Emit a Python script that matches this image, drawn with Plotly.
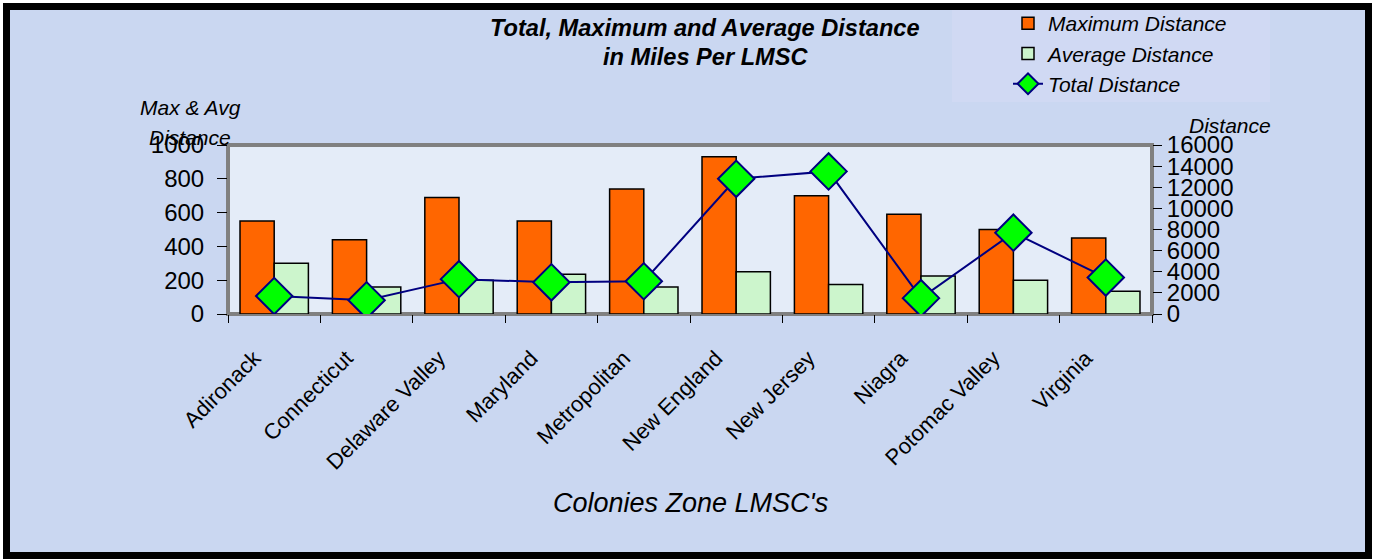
import plotly.graph_objects as go

categories = ["Adironack", "Connecticut", "Delaware Valley", "Maryland", "Metropolitan",
              "New England", "New Jersey", "Niagra", "Potomac Valley", "Virginia"]
max_distance = [550, 440, 690, 550, 740, 930, 700, 590, 500, 450]
avg_distance = [300, 160, 200, 235, 160, 250, 175, 225, 200, 135]
total_distance = [1700, 1300, 3300, 3000, 3100, 12800, 13500, 1500, 7700, 3450]
left_ticks = [0, 200, 400, 600, 800, 1000]
right_ticks = [0, 2000, 4000, 6000, 8000, 10000, 12000, 14000, 16000]

FONT = "Liberation Sans, Arial, sans-serif"
W, H = 1377, 559
L, R, T, B = 228, 225, 145, 245
PW, PH = W - L - R, H - T - B


def px(x):
    return (x - L) / PW


def py(y):
    return (H - B - y) / PH


fig = go.Figure()
fig.add_trace(go.Bar(
    x=categories, y=max_distance, name="Maximum Distance",
    marker=dict(color="#ff6600", line=dict(color="black", width=1.5)),
))
fig.add_trace(go.Bar(
    x=categories, y=avg_distance, name="Average Distance",
    marker=dict(color="#ccf5cc", line=dict(color="black", width=1.5)),
))
fig.add_trace(go.Scatter(
    x=categories, y=total_distance, name="Total Distance", yaxis="y2",
    mode="lines+markers",
    line=dict(color="#000080", width=2),
    marker=dict(symbol="diamond", size=28, color="#00ff00",
                line=dict(color="#000080", width=2)),
))

fig.update_layout(
    width=W, height=H,
    margin=dict(l=L, r=R, t=T, b=B, pad=0, autoexpand=False),
    paper_bgcolor="white",
    plot_bgcolor="rgba(0,0,0,0)",
    font=dict(family=FONT, color="black"),
    barmode="group", bargap=0.26, bargroupgap=0,
    showlegend=True,
    legend=dict(
        x=px(1008), y=py(3), xanchor="left", yanchor="top",
        bgcolor="rgba(0,0,0,0)",
        font=dict(family=FONT, size=21, style="italic"),
        traceorder="normal",
    ),
    xaxis=dict(
        type="category", range=[-0.5, len(categories) - 0.5],
        tickangle=-45, tickson="boundaries",
        ticks="outside", ticklen=8, tickcolor="black", tickwidth=1,
        showgrid=False, showline=False, zeroline=False,
        tickfont=dict(family=FONT, size=22),
        ticklabelstandoff=26, ticklabelshift=-20,
    ),
    yaxis=dict(
        range=[0, 1000], tickvals=left_ticks, ticks="outside", ticklen=10,
        tickcolor="black", showgrid=False, zeroline=False, showline=False,
        tickfont=dict(family=FONT, size=24), ticklabelstandoff=8,
    ),
    yaxis2=dict(
        range=[0, 16000], tickvals=right_ticks, tickformat="d",
        overlaying="y", side="right",
        ticks="outside", ticklen=9, tickcolor="black", showgrid=False,
        zeroline=False, showline=False, tickfont=dict(family=FONT, size=24),
    ),
    shapes=[
        dict(type="rect", xref="paper", yref="paper", layer="below",
             x0=px(6.5), x1=px(1368.5), y0=py(555.5), y1=py(6.5),
             fillcolor="#cad7f1", line=dict(color="black", width=7)),
        dict(type="rect", xref="paper", yref="paper", layer="below",
             x0=px(952), x1=px(1270), y0=py(102), y1=py(10),
             fillcolor="rgba(222,220,246,0.35)", line=dict(width=0)),
        dict(type="rect", xref="paper", yref="paper", layer="below",
             x0=0, x1=1, y0=0, y1=1,
             fillcolor="#e4ecf8", line=dict(color="#808080", width=4)),
    ],
    annotations=[
        dict(text="<b><i>Total, Maximum and Average Distance</i></b>",
             x=px(705), y=py(28), xref="paper", yref="paper", showarrow=False,
             xanchor="center", yanchor="middle", font=dict(family=FONT, size=23.6)),
        dict(text="<b><i>in Miles Per LMSC</i></b>",
             x=px(705), y=py(57), xref="paper", yref="paper", showarrow=False,
             xanchor="center", yanchor="middle", font=dict(family=FONT, size=23.6)),
        dict(text="<i>Max & Avg</i>", x=px(190), y=py(107), xref="paper", yref="paper",
             showarrow=False, xanchor="center", yanchor="middle",
             font=dict(family=FONT, size=21)),
        dict(text="<i>Distance</i>", x=px(190), y=py(137), xref="paper", yref="paper",
             showarrow=False, xanchor="center", yanchor="middle",
             font=dict(family=FONT, size=21)),
        dict(text="<i>Distance</i>", x=px(1230), y=py(125), xref="paper", yref="paper",
             showarrow=False, xanchor="center", yanchor="middle",
             font=dict(family=FONT, size=21)),
        dict(text="<i>Colonies Zone LMSC's</i>", x=px(690), y=py(503), xref="paper",
             yref="paper", showarrow=False, xanchor="center", yanchor="middle",
             font=dict(family=FONT, size=27)),
    ],
)

POST = (
    "document.documentElement.style.margin='0';"
    "document.documentElement.style.overflow='hidden';"
    "document.body.style.margin='0';document.body.style.padding='0';"
    "document.body.style.overflow='hidden';"
    "var gd=document.querySelector('.plotly-graph-div');"
    "gd.style.position='fixed';gd.style.top='0px';gd.style.left='0px';"
)

fig.write_html("out.html", config={"displayModeBar": False}, post_script=POST)
